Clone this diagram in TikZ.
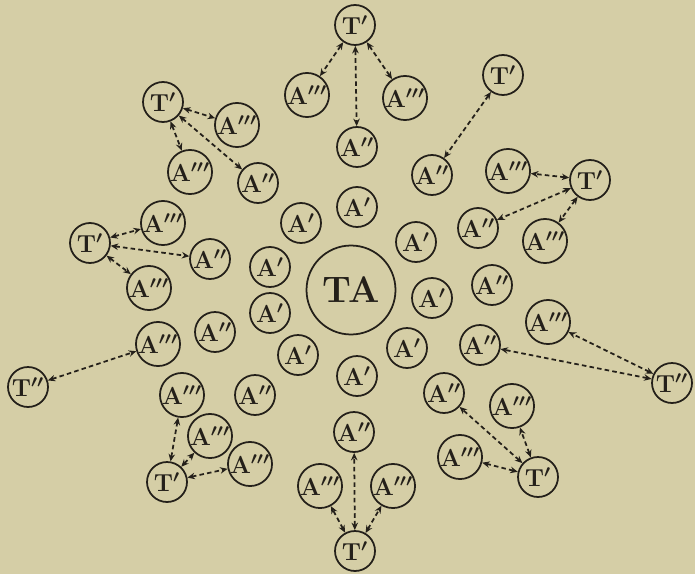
\documentclass[tikz,border=0pt]{standalone}
\usepackage{amsmath}
\usepackage{xcolor}
\usepackage{tikz}
\usetikzlibrary{arrows.meta}
\definecolor{paper}{RGB}{213,206,166}
\definecolor{ink}{RGB}{36,32,26}
\newcommand{\Ai}{A$'$}
\newcommand{\Aii}{A$''$}
\newcommand{\Aiii}{A$'''$}

\begin{document}
\begin{tikzpicture}[x=0.02cm, y=-0.02cm,
  cell/.style={draw=ink, circle, line width=1pt, minimum size=0.8cm, inner sep=0pt, text=ink, font=\fontsize{14}{16}\selectfont\bfseries\boldmath},
  hub/.style={cell, minimum size=1.78cm, font=\fontsize{21}{24}\selectfont\bfseries},
  link/.style={{Stealth[length=1.5mm,width=1.3mm]}-{Stealth[length=1.5mm,width=1.3mm]}, draw=ink, line width=1pt, dash pattern=on 2.6pt off 1.8pt}]
\useasboundingbox[fill=paper] (0,0) rectangle (695,574);
% centre and first ring
\node[hub] (ta) at (351,290) {TA};
\node[cell] (p1) at (357,207) {\Ai};
\node[cell] (p2) at (301,223) {\Ai};
\node[cell] (p3) at (270,267) {\Ai};
\node[cell] (p4) at (270,313) {\Ai};
\node[cell] (p5) at (298,355) {\Ai};
\node[cell] (p6) at (357,376) {\Ai};
\node[cell] (p7) at (407,348) {\Ai};
\node[cell] (p8) at (432,298) {\Ai};
\node[cell] (p9) at (416,242) {\Ai};
% second ring, free ones
\node[cell] (q1) at (215,332) {\Aii};
\node[cell] (q2) at (255,395) {\Aii};
\node[cell] (q3) at (492,285) {\Aii};
% top group
\node[cell] (tN) at (355,25) {T$'$};
\node[cell] (aN1) at (307,95) {\Aiii};
\node[cell] (aN2) at (405,98) {\Aiii};
\node[cell] (aN3) at (357,147) {\Aii};
% upper right
\node[cell] (tNE) at (503,75) {T$'$};
\node[cell] (aNE) at (432,175) {\Aii};
% right
\node[cell] (tE) at (590,180) {T$'$};
\node[cell] (aE1) at (508,171) {\Aiii};
\node[cell] (aE2) at (478,228) {\Aii};
\node[cell] (aE3) at (545,241) {\Aiii};
% far right
\node[cell] (tEE) at (672,383) {T$''$};
\node[cell] (aEE1) at (548,322) {\Aiii};
\node[cell] (aEE2) at (480,345) {\Aii};
% lower right
\node[cell] (tSE) at (538,477) {T$'$};
\node[cell] (aSE1) at (444,393) {\Aii};
\node[cell] (aSE2) at (512,406) {\Aiii};
\node[cell] (aSE3) at (460,457) {\Aiii};
% bottom
\node[cell] (tS) at (355,551) {T$'$};
\node[cell] (aS1) at (354,432) {\Aii};
\node[cell] (aS2) at (320,486) {\Aiii};
\node[cell] (aS3) at (393,486) {\Aiii};
% lower left
\node[cell] (tSW) at (167,482) {T$'$};
\node[cell] (aSW1) at (182,395) {\Aiii};
\node[cell] (aSW2) at (210,436) {\Aiii};
\node[cell] (aSW3) at (250,464) {\Aiii};
% far left
\node[cell] (tWW) at (28,387) {T$''$};
\node[cell] (aWW) at (158,344) {\Aiii};
% left
\node[cell] (tW) at (90,243) {T$'$};
\node[cell] (aW1) at (163,223) {\Aiii};
\node[cell] (aW2) at (210,259) {\Aii};
\node[cell] (aW3) at (149,288) {\Aiii};
% upper left
\node[cell] (tNW) at (163,102) {T$'$};
\node[cell] (aNW1) at (237,125) {\Aiii};
\node[cell] (aNW2) at (190,172) {\Aiii};
\node[cell] (aNW3) at (258,183) {\Aii};
% links
\draw[link] (tN) -- (aN1);
\draw[link] (tN) -- (aN2);
\draw[link] (tN) -- (aN3);
\draw[link] (tNE) -- (aNE);
\draw[link] (tE) -- (aE1);
\draw[link] (tE) -- (aE2);
\draw[link] (tE) -- (aE3);
\draw[link] (tEE) -- (aEE1);
\draw[link] (tEE) -- (aEE2);
\draw[link] (tSE) -- (aSE1);
\draw[link] (tSE) -- (aSE2);
\draw[link] (tSE) -- (aSE3);
\draw[link] (tS) -- (aS1);
\draw[link] (tS) -- (aS2);
\draw[link] (tS) -- (aS3);
\draw[link] (tSW) -- (aSW1);
\draw[link] (tSW) -- (aSW2);
\draw[link] (tSW) -- (aSW3);
\draw[link] (tWW) -- (aWW);
\draw[link] (tW) -- (aW1);
\draw[link] (tW) -- (aW2);
\draw[link] (tW) -- (aW3);
\draw[link] (tNW) -- (aNW1);
\draw[link] (tNW) -- (aNW2);
\draw[link] (tNW) -- (aNW3);
\end{tikzpicture}
\end{document}
